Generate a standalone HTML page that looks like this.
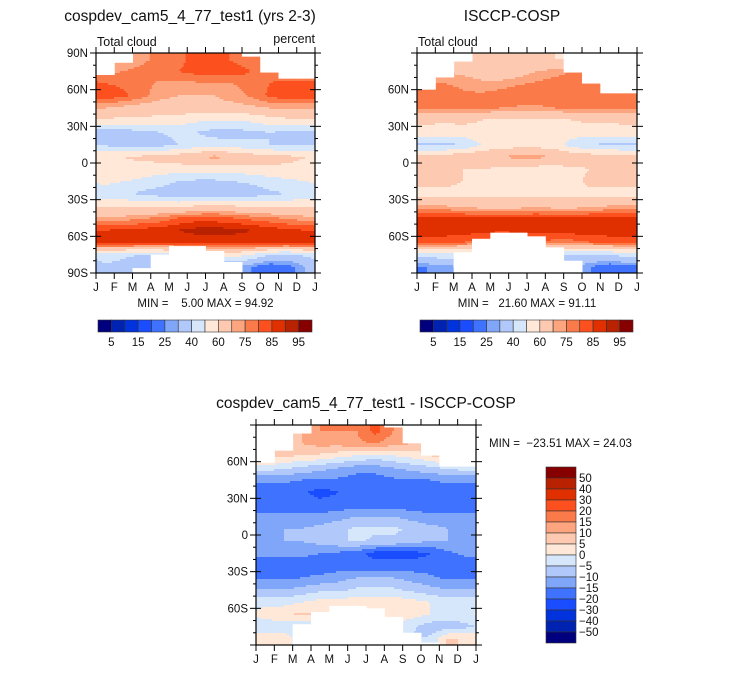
<!DOCTYPE html>
<html><head><meta charset="utf-8">
<style>
body{margin:0;background:#fff;width:733px;height:672px;overflow:hidden;font-family:"Liberation Sans",sans-serif;}
svg text{font-family:"Liberation Sans",sans-serif;fill:#111;}
</style></head>
<body>
<svg id="fig" width="733" height="672" xmlns="http://www.w3.org/2000/svg">
<text x="190" y="21" font-size="15.5" text-anchor="middle">cospdev_cam5_4_77_test1 (yrs 2-3)</text>
<text x="512" y="21" font-size="15.5" text-anchor="middle">ISCCP-COSP</text>
<text x="366" y="408" font-size="15.5" text-anchor="middle">cospdev_cam5_4_77_test1 - ISCCP-COSP</text>
</svg>
<script>
const lats=[85,75,65,55,45,35,25,15,5,-5,-15,-25,-35,-45,-55,-65,-75,-85];
const months=["J","F","M","A","M","J","J","A","S","O","N","D","J"];
const levelsAbs=[5,10,15,20,25,30,40,50,60,70,75,80,85,90,95];
const labelsAbs=["5","15","25","40","60","75","85","95"];
const levelsDiff=[-50,-40,-30,-20,-15,-10,-5,0,5,10,15,20,30,40,50];
const labelsDiff=["50","40","30","20","15","10","5","0","\u22125","\u221210","\u221215","\u221220","\u221230","\u221240","\u221250"];
const colors=["#00007f","#0022b0","#0033dd","#1a4dff","#3f73ff","#7fa6f8","#b0c9fa","#d6e7fc","#ffe8d8","#fdc9b0","#fca57f","#fb7a4a","#fc501e","#e03000","#b82200","#870000"];
const modelVals=[
[72,73,74,76,78,83,84,79,76,74,72,70],
[74,75,76,78,80,82,83,83,80,77,75,74],
[80,79,77,74,74,74,75,75,77,80,82,82],
[84,81,77,72,70,70,70,72,76,81,84,84],
[70,68,66,66,66,66,68,68,68,70,70,70],
[58,58,58,56,55,52,50,50,52,56,58,58],
[35,35,36,40,42,40,36,36,38,40,38,36],
[38,36,34,36,40,44,45,44,42,40,38,38],
[58,60,62,64,66,70,72,70,66,64,62,60],
[58,58,56,55,55,55,55,55,56,58,58,58],
[52,50,48,44,40,38,38,40,42,45,48,50],
[45,42,38,35,32,30,30,32,34,38,40,44],
[58,58,58,58,58,60,62,60,58,58,58,58],
[72,72,74,76,80,82,82,80,78,76,74,72],
[85,86,87,88,90,92,92,92,90,88,86,85],
[90,90,88,86,86,86,86,86,88,90,90,90],
[45,42,40,42,50,55,55,55,50,40,38,42],
[38,36,32,30,30,30,30,30,25,20,22,30]];
const obsVals=[
[65,65,62,60,60,60,62,60,58,62,65,65],
[72,70,68,65,64,66,70,72,76,78,74,72],
[76,75,74,72,72,74,76,78,78,76,76,76],
[80,78,76,76,78,80,78,78,78,78,80,80],
[75,76,76,76,75,74,74,75,76,76,75,75],
[62,62,62,60,58,58,58,58,60,62,62,62],
[56,55,56,58,58,58,56,56,55,55,55,56],
[38,38,40,50,55,56,56,55,45,40,38,38],
[65,65,68,70,70,72,72,70,68,66,66,65],
[60,60,60,60,58,56,56,56,58,60,60,60],
[64,64,60,58,56,56,56,56,58,62,64,64],
[56,56,56,58,58,58,58,58,58,58,56,56],
[72,70,68,66,66,66,68,66,66,68,70,72],
[86,86,86,86,86,86,86,86,86,86,86,86],
[88,88,88,87,86,86,86,87,88,88,88,88],
[82,82,80,78,78,80,80,78,78,80,82,82],
[45,45,44,40,40,40,40,40,40,40,40,45],
[25,28,30,30,30,30,30,30,30,25,20,22]];
const diffVals=[
[10,10,10,15,15,15,22,15,10,10,10,10],
[8,8,10,12,12,14,15,12,10,8,8,8],
[8,6,5,4,2,0,-2,0,2,5,8,8],
[-2,-4,-6,-8,-10,-12,-12,-10,-8,-6,-4,-2],
[-14,-14,-15,-16,-16,-18,-18,-16,-16,-15,-14,-14],
[-18,-18,-19,-22,-20,-18,-18,-18,-18,-18,-18,-18],
[-18,-18,-18,-18,-18,-18,-18,-18,-18,-18,-18,-18],
[-14,-14,-14,-14,-12,-10,-10,-10,-12,-14,-14,-14],
[-12,-10,-10,-8,-6,-4,-4,-4,-6,-8,-10,-12],
[-10,-10,-10,-8,-6,-4,-6,-6,-8,-10,-10,-10],
[-14,-14,-14,-15,-16,-18,-22,-22,-22,-20,-16,-14],
[-17,-17,-17,-18,-18,-18,-18,-18,-18,-18,-18,-17],
[-16,-16,-15,-14,-12,-10,-10,-10,-12,-14,-16,-16],
[-10,-10,-8,-6,-6,-4,-4,-4,-6,-8,-10,-10],
[-2,-2,0,2,2,3,3,3,2,0,-2,-2],
[3,4,6,5,4,4,4,3,2,0,-2,-2],
[-4,-4,-6,-4,0,0,0,0,-4,-8,-8,-6],
[4,4,-4,-4,-4,-4,-4,-4,-6,-4,6,4]];
const modelNorth=[72,82,90,90,90,90,90,90,87,74,69,69];
const modelSouth=[-90,-90,-86,-75,-68,-68,-72,-81,-90,-90,-90,-90];
const obsNorth=[60,70,83,90,90,90,90,90,74,65,57,57];
const obsSouth=[-90,-90,-73,-62,-57,-57,-60,-69,-80,-90,-90,-90];
const diffNorth=[59,69,83,90,90,90,90,88,75,65,56,56];
const diffSouth=[-90,-90,-73,-63,-58,-58,-60,-67,-80,-88,-90,-90];
const minMax=[["5.00","94.92"],["21.60","91.11"],["-23.51","24.03"]];

const NS="http://www.w3.org/2000/svg";
const svg=document.getElementById('fig');
function mk(tag,attrs,parent){const e=document.createElementNS(NS,tag);for(const k in attrs)e.setAttribute(k,attrs[k]);(parent||svg).appendChild(e);return e;}
function levelIndex(v,lev){let i=0;while(i<lev.length&&v>=lev[i])i++;return i;}
function sample(vals,lat,m){
  let r=(85-lat)/10; r=Math.max(0,Math.min(lats.length-1,r));
  const r0=Math.floor(r),r1=Math.min(lats.length-1,r0+1),fr=r-r0;
  let c=m-0.5; const c0=Math.floor(c),fc=c-c0;
  const i0=((c0%12)+12)%12,i1=(i0+1)%12;
  const a=vals[r0][i0]*(1-fc)+vals[r0][i1]*fc;
  const b=vals[r1][i0]*(1-fc)+vals[r1][i1]*fc;
  return a*(1-fr)+b*fr;
}
function panel(name,x0,y0,W,H,vals,lev,north,south,yLabels,mm,mmX,mmY){
  const g=mk('g',{});
  
  
  const sx=m=>x0+m/12*W, sy=l=>y0+(90-l)/180*H;
  const nx=110, ny=110, sw=W/nx, sh=H/ny;
  for(let j=0;j<ny;j++){
    const lat=90-(j+0.5)/ny*180;
    let start=0,cur=-1;
    for(let i=0;i<=nx;i++){
      let li=-2;
      if(i<nx){const m=(i+0.5)/nx*12;li=levelIndex(sample(vals,lat,m),lev);}
      if(li!==cur){
        if(cur>=0){const r=mk('rect',{x:x0+start*sw,y:y0+j*sh,width:(i-start)*sw+0.4,height:sh+0.4,fill:colors[cur]},g);
          
          }
        cur=li;start=i;}
    }
  }
  for(let k=0;k<12;k++){
    if(north[k]<90){const r=mk('rect',{x:sx(k),y:y0-0.5,width:W/12+0.5,height:sy(north[k])-y0+0.5,fill:'#fff'},g);
      
      }
    if(south[k]>-90){const r=mk('rect',{x:sx(k),y:sy(south[k]),width:W/12+0.5,height:y0+H-sy(south[k])+0.5,fill:'#fff'},g);
      
      }
  }
  const fr=mk('rect',{x:x0,y:y0,width:W,height:H,fill:'none',stroke:'#000','stroke-width':1.2},g);
  
  
  for(let k=0;k<=12;k++){
    const x=sx(k);
    mk('line',{x1:x,y1:y0+H,x2:x,y2:y0+H+6,stroke:'#000'},g);
    mk('line',{x1:x,y1:y0,x2:x,y2:y0-6,stroke:'#000'},g);
    const t=mk('text',{x:x,y:y0+H+18,'font-size':11.5,'text-anchor':'middle'},g);t.textContent=months[k];
    
    
  }
  for(let l=-90;l<=90;l+=10){
    const y=sy(l),major=l%30===0,len=major?6:3;
    mk('line',{x1:x0-len,y1:y,x2:x0,y2:y,stroke:'#000'},g);
    mk('line',{x1:x0+W,y1:y,x2:x0+W+len,y2:y,stroke:'#000'},g);
    if(major){mk('line',{x1:x0,y1:y,x2:x0+5,y2:y,stroke:'#000'},g);mk('line',{x1:x0+W-5,y1:y,x2:x0+W,y2:y,stroke:'#000'},g);}
    if(major&&yLabels.includes(l)){
      const t=mk('text',{x:x0-8,y:y+4,'font-size':11.5,'text-anchor':'end'},g);
      t.textContent=l===0?'0':(Math.abs(l)+(l>0?'N':'S'));
      
      
    }
  }
  const t=mk('text',{x:mmX,y:mmY,'font-size':11.5,'text-anchor':mmX===x0+W/2?'middle':'start'},g);
  t.textContent='MIN = '+mm[0].replace('-','\u2212').padStart(7,' ')+' MAX = '+mm[1];
  t.setAttribute('xml:space','preserve');t.style.whiteSpace='pre';
  
  
}
panel('model-panel',96,53,219,220,modelVals,levelsAbs,modelNorth,modelSouth,[90,60,30,0,-30,-60,-90],minMax[0],205.5,307);
panel('obs-panel',417,53,220,220,obsVals,levelsAbs,obsNorth,obsSouth,[60,30,0,-30,-60],minMax[1],527,307);
panel('diff-panel',256,425,220,220,diffVals,levelsDiff,diffNorth,diffSouth,[60,30,0,-30,-60],minMax[2],489,447);

function tx(x,y,s,name,anchor,size){const t=mk('text',{x:x,y:y,'font-size':size||12.5,'text-anchor':anchor||'start'});t.textContent=s;
  return t;}
tx(97,46,'Total cloud','field-label-model');
tx(315,43,'percent','units-label','end');
tx(418,46,'Total cloud','field-label-obs');

function hbar(name,x0,y0,W,H){
  const g=mk('g',{});
  const w=W/16;
  colors.forEach((c,i)=>{const r=mk('rect',{x:x0+i*w,y:y0,width:w,height:H,fill:c,stroke:'#333','stroke-width':0.6},g);
    });
  labelsAbs.forEach((s,k)=>{const t=mk('text',{x:x0+(2*k+1)*w,y:y0+H+14,'font-size':11.5,'text-anchor':'middle'},g);t.textContent=s;
    });
}
hbar('colorbar-model',98,320,214,12);
hbar('colorbar-obs',420,320,213,12);
(function(){
  const g=mk('g',{});
  const x0=546,y0=467,W=30,h=11;
  colors.slice().reverse().forEach((c,i)=>{const r=mk('rect',{x:x0,y:y0+i*h,width:W,height:h,fill:c,stroke:'#333','stroke-width':0.6},g);
    });
  labelsDiff.forEach((s,k)=>{const t=mk('text',{x:579,y:y0+(k+1)*h+4,'font-size':11.5},g);t.textContent=s;
    });
})();
</script>
</body></html>
